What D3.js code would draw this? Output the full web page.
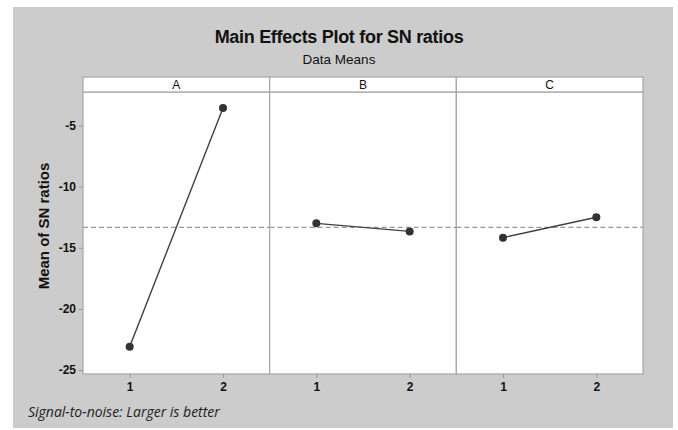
<!DOCTYPE html>
<html>
<head>
<meta charset="utf-8">
<script src="https://cdn.jsdelivr.net/npm/d3@7"></script>
<style>
  body { margin: 0; background: #ffffff; }
  svg { display: block; }
</style>
</head>
<body>
<div id="chart"></div>
<script>
// factors and their levels
const factors = ['A', 'B', 'C']
const levels = [1, 2]
// mean SN ratio per level, one array per factor
const snA = [-23.1, -3.55]
const snB = [-13.0, -13.66]
const snC = [-14.17, -12.5]
const yTicks = [-25, -20, -15, -10, -5]
const titleText = 'Main Effects Plot for SN ratios'
const subtitleText = 'Data Means'
const yLabel = 'Mean of SN ratios'
const footText = 'Signal-to-noise: Larger is better'

const series = [snA, snB, snC]

const width = 678
const height = 430

// panel area inside the grey frame
const margin = { top: 92, right: 35, bottom: 56, left: 83 }
const stripH = 15
const innerWidth = width - margin.left - margin.right
const innerHeight = height - margin.top - margin.bottom
const panelW = innerWidth / factors.length

const grandMean = d3.mean(series.flat())

const svg = d3.select('#chart')
    .append('svg')
    .attr('width', width)
    .attr('height', height)
    .attr('font-family', '"Liberation Sans", Arial, sans-serif')

// grey frame
svg.append('rect')
    .attr('x', 13)
    .attr('y', 7)
    .attr('width', 660)
    .attr('height', 421)
    .attr('fill', '#cccccc')

svg.append('text')
    .attr('x', 339)
    .attr('y', 43)
    .attr('text-anchor', 'middle')
    .attr('font-size', 18)
    .attr('font-weight', 'bold')
    .attr('letter-spacing', '-0.3px')
    .attr('fill', '#111')
    .text(titleText)

svg.append('text')
    .attr('x', 339)
    .attr('y', 64)
    .attr('text-anchor', 'middle')
    .attr('font-size', 13.5)
    .attr('fill', '#111')
    .text(subtitleText)

const yScale = d3.scaleLinear()
    .domain([-25.33, -2.25])
    .range([innerHeight, 0])

const g = svg.append('g')
    .attr('transform', `translate(${margin.left}, ${margin.top})`)

// plain hyphen for negatives, like the original
const plainFormat = d => `${d}`

// y axis on the left of the first panel
const yAxis = d3.axisLeft(yScale)
    .tickValues(yTicks)
    .tickFormat(plainFormat)
    .tickSize(4)
    .tickPadding(3)
const yAxisG = g.append('g').call(yAxis)
    .attr('font-size', 12)
    .attr('font-weight', 'bold')
    .attr('font-family', '"Liberation Sans", Arial, sans-serif')
yAxisG.select('.domain').remove()
yAxisG.selectAll('.tick line').attr('stroke', '#999')
yAxisG.selectAll('.tick text').attr('fill', '#111')

svg.append('text')
    .attr('transform', `translate(49, 226) rotate(-90)`)
    .attr('text-anchor', 'middle')
    .attr('font-size', 15)
    .attr('font-weight', 'bold')
    .attr('fill', '#111')
    .text(yLabel)

factors.forEach((f, i) => {
    const x0 = i * panelW
    const xScale = d3.scaleLinear()
        .domain([0.5, 2.5])
        .range([x0, x0 + panelW])

    const panel = g.append('g')

    panel.append('rect')
        .attr('x', x0)
        .attr('y', 0)
        .attr('width', panelW)
        .attr('height', innerHeight)
        .attr('fill', '#ffffff')
        .attr('stroke', '#a6a6a6')
        .attr('stroke-width', 1.2)

    // strip with factor name
    panel.append('rect')
        .attr('x', x0)
        .attr('y', -stripH)
        .attr('width', panelW)
        .attr('height', stripH)
        .attr('fill', '#ffffff')
        .attr('stroke', '#a6a6a6')
        .attr('stroke-width', 1.2)

    panel.append('text')
        .attr('x', x0 + panelW / 2)
        .attr('y', -3)
        .attr('text-anchor', 'middle')
        .attr('font-size', 12)
        .attr('fill', '#111')
        .text(f)

    // grand mean reference line
    panel.append('line')
        .attr('x1', x0)
        .attr('x2', x0 + panelW)
        .attr('y1', yScale(grandMean))
        .attr('y2', yScale(grandMean))
        .attr('stroke', '#999')
        .attr('stroke-width', 1.2)
        .attr('stroke-dasharray', '5,3')

    const xAxis = d3.axisBottom(xScale)
        .tickValues(levels)
        .tickFormat(plainFormat)
        .tickSize(4)
        .tickPadding(4)
    const xAxisG = panel.append('g')
        .attr('transform', `translate(0, ${innerHeight})`)
        .call(xAxis)
        .attr('font-size', 12)
        .attr('font-weight', 'bold')
        .attr('font-family', '"Liberation Sans", Arial, sans-serif')
    xAxisG.select('.domain').remove()
    xAxisG.selectAll('.tick line').attr('stroke', '#999')
    xAxisG.selectAll('.tick text').attr('fill', '#111')

    const pts = levels.map((l, j) => ({ level: l, value: series[i][j] }))

    const line = d3.line()
        .x(d => xScale(d.level))
        .y(d => yScale(d.value))

    panel.append('path')
        .datum(pts)
        .attr('d', line)
        .attr('fill', 'none')
        .attr('stroke', '#404040')
        .attr('stroke-width', 1.4)

    panel.selectAll('circle')
        .data(pts)
        .enter()
        .append('circle')
        .attr('cx', d => xScale(d.level))
        .attr('cy', d => yScale(d.value))
        .attr('r', 4)
        .attr('fill', '#333333')
})

svg.append('text')
    .attr('x', 28)
    .attr('y', 417)
    .attr('font-family', '"Open Sans", "Noto Sans", sans-serif')
    .attr('font-size', 14)
    .attr('font-style', 'italic')
    .attr('fill', '#222')
    .text(footText)
</script>
</body>
</html>
